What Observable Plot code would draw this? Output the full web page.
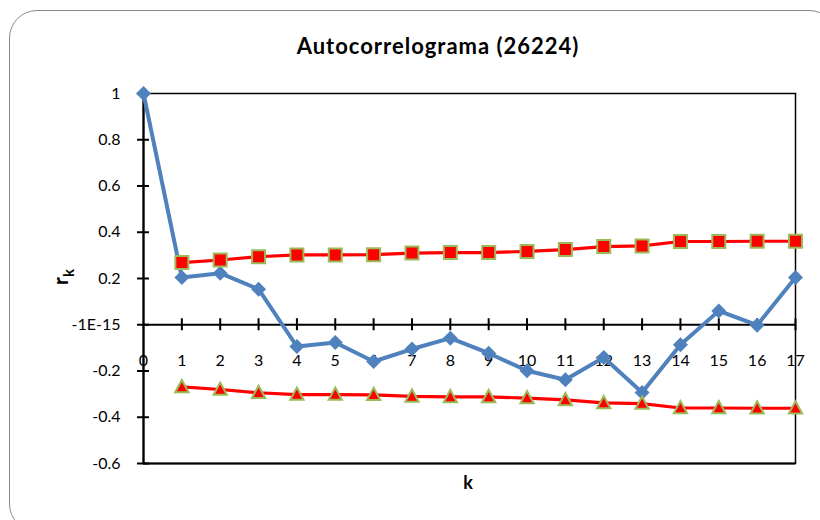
<!DOCTYPE html>
<html><head><meta charset="utf-8">
<script src="https://cdn.jsdelivr.net/npm/d3@7"></script>
<script src="https://cdn.jsdelivr.net/npm/@observablehq/plot@0.6"></script>
<style>
body{margin:0;background:#fff;overflow:hidden}
#wrap{position:relative;width:820px;height:520px;overflow:hidden;font-family:Lato,"Open Sans",sans-serif;background:#fff}
#frame{position:absolute;left:8.5px;top:9.5px;width:828px;height:522px;border:1.8px solid #8a8a8a;border-radius:28px;box-sizing:border-box}
#title{position:absolute;left:0;top:32px;width:876px;text-align:center;font-weight:bold;font-size:22px;letter-spacing:1px;color:#000}
#ylab{position:absolute;left:62px;top:277px;transform:translate(-50%,-50%) rotate(-90deg);font-weight:bold;font-size:21px;color:#000;white-space:nowrap}
#ylab sub{font-size:15px}
#xlab{position:absolute;left:468px;top:482px;transform:translate(-50%,-50%);font-weight:bold;font-size:18px;color:#000}
#chart{position:absolute;left:0;top:0}
</style></head>
<body>
<div id="wrap">
  <div id="frame"></div>
  <div id="chart"></div>
  <div id="title">Autocorrelograma (26224)</div>
  <div id="ylab">r<sub>k</sub></div>
  <div id="xlab">k</div>
</div>
<script>
// Lags and autocorrelations
const lags = [0,1,2,3,4,5,6,7,8,9,10,11,12,13,14,15,16,17];
const rk = [1, 0.204, 0.223, 0.154, -0.094, -0.077, -0.159, -0.105, -0.058, -0.123, -0.199, -0.238, -0.142, -0.293, -0.087, 0.060, -0.002, 0.204];
// Confidence bands
const bandLags = [1,2,3,4,5,6,7,8,9,10,11,12,13,14,15,16,17];
const upper = [0.269,0.280,0.294,0.302,0.302,0.303,0.310,0.312,0.312,0.317,0.325,0.338,0.341,0.360,0.360,0.361,0.361];
const lower = [-0.269,-0.280,-0.294,-0.302,-0.302,-0.303,-0.310,-0.312,-0.312,-0.317,-0.325,-0.338,-0.341,-0.360,-0.360,-0.361,-0.361];
// Axis ticks
const yTicks = [-0.6,-0.4,-0.2,0,0.2,0.4,0.6,0.8,1];
const yTickLabels = ["-0.6","-0.4","-0.2","-1E-15","0.2","0.4","0.6","0.8","1"];
const xTickLabels = ["0","1","2","3","4","5","6","7","8","9","10","11","12","13","14","15","16","17"];

const rkData = lags.map((k,i)=>({k, r: rk[i]}));
const upData = bandLags.map((k,i)=>({k, v: upper[i]}));
const loData = bandLags.map((k,i)=>({k, v: lower[i]}));

const diamond = {draw(c, size){const r=Math.sqrt(size/Math.PI); c.moveTo(0,-r); c.lineTo(r,0); c.lineTo(0,r); c.lineTo(-r,0); c.closePath();}};
const square = {draw(c, size){const r=Math.sqrt(size/Math.PI); c.rect(-r,-r,2*r,2*r);}};
const triangle = {draw(c, size){const r=Math.sqrt(size/Math.PI); c.moveTo(0,-r); c.lineTo(r*0.95,r*0.75); c.lineTo(-r*0.95,r*0.75); c.closePath();}};

const fmt = v => yTickLabels[yTicks.findIndex(t => Math.abs(t - v) < 1e-9)];

const chart = Plot.plot({
  width: 820, height: 520,
  marginLeft: 143, marginRight: 25, marginTop: 93, marginBottom: 57,
  style: {fontFamily: 'Lato, "Open Sans", sans-serif', fontSize: "16px", color: "#000", background: "transparent"},
  x: {domain: [0, 17], axis: null},
  y: {domain: [-0.6, 1], axis: null},
  marks: [
    Plot.frame({stroke: "#000", strokeWidth: 1.5}),
    Plot.ruleX([0], {stroke: "#000", strokeWidth: 2.2}),
    Plot.ruleY([-0.6], {stroke: "#000", strokeWidth: 2.2}),
    Plot.ruleY([0], {stroke: "#000", strokeWidth: 2}),
    // y tick marks crossing the axis
    Plot.ruleY(yTicks, {y: d => d, x1: 0, x2: 0, insetLeft: -6, insetRight: -6, stroke: "#000", strokeWidth: 2}),
    // x tick marks crossing the zero line
    Plot.ruleX(lags.slice(1), {x: d => d, y1: 0, y2: 0, insetTop: -6, insetBottom: -6, stroke: "#000", strokeWidth: 2}),
    Plot.axisY(yTicks, {tickSize: 0, tickPadding: 23, tickFormat: fmt, fontSize: 16, fill: "#000"}),
    Plot.text(lags, {x: d => d, y: 0, text: (d,i) => xTickLabels[i], dy: 36, fontSize: 16, fill: "#000"}),
    Plot.line(rkData, {x: "k", y: "r", stroke: "#4F81BD", strokeWidth: 4, strokeLinejoin: "round"}),
    Plot.dot(rkData, {x: "k", y: "r", symbol: diamond, r: 7.5, fill: "#4F81BD", stroke: "none"}),
    Plot.line(upData, {x: "k", y: "v", stroke: "#FF0000", strokeWidth: 3.2}),
    Plot.dot(upData, {x: "k", y: "v", symbol: square, r: 6.5, fill: "#FF0000", stroke: "#9BBB59", strokeWidth: 2}),
    Plot.line(loData, {x: "k", y: "v", stroke: "#FF0000", strokeWidth: 3.2}),
    Plot.dot(loData, {x: "k", y: "v", symbol: triangle, r: 7, fill: "#FF0000", stroke: "#9BBB59", strokeWidth: 2})
  ]
});
document.getElementById("chart").appendChild(chart);
</script>
</body></html>
